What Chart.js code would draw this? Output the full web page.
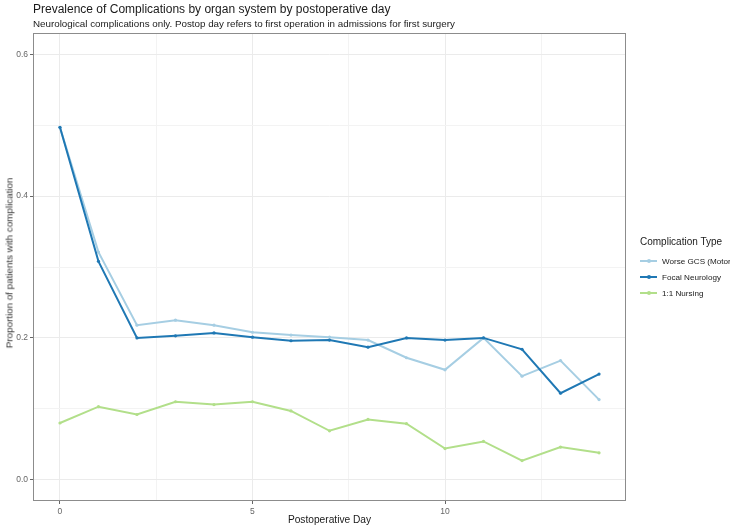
<!DOCTYPE html>
<html>
<head>
<meta charset="utf-8">
<script src="https://cdn.jsdelivr.net/npm/chart.js@4.4.1/dist/chart.umd.min.js"></script>
<style>
  body { margin: 0; background: #fff; font-family: "Liberation Sans", Arial, sans-serif; }
  #wrap { position: relative; width: 730px; height: 532px; overflow: hidden; }
  #chart { position: absolute; left: 0; top: 0; }
  .txt { position: absolute; white-space: nowrap; color: #1a1a1a; }
  #title { left: 33px; top: 2px; font-size: 12px; }
  #subtitle { left: 33px; top: 18px; font-size: 9.8px; }
  #xlab { left: 33px; width: 593px; top: 514px; text-align: center; font-size: 10.2px; }
  #ylab { left: 9px; top: 263px; font-size: 9.8px; color: #333; transform: translate(-50%, -50%) rotate(-90deg); }
  #legend { position: absolute; left: 640px; top: 236px; }
  #legend .ltitle { font-size: 10px; color: #1a1a1a; margin-bottom: 6px; }
  #legend .row { display: flex; align-items: center; height: 16px; font-size: 8.1px; color: #1a1a1a; white-space: nowrap; }
  #legend .key { position: relative; width: 17px; height: 2px; margin-right: 5px; }
  #legend .key span { position: absolute; left: 6.5px; top: -1.5px; width: 4px; height: 4px; border-radius: 2px; }
</style>
</head>
<body>
<div id="wrap">
  <canvas id="chart" width="730" height="532"></canvas>
  <div class="txt" id="title">Prevalence of Complications by organ system by postoperative day</div>
  <div class="txt" id="subtitle">Neurological complications only. Postop day refers to first operation in admissions for first surgery</div>
  <div class="txt" id="xlab">Postoperative Day</div>
  <div class="txt" id="ylab">Proportion of patients with complication</div>
  <div id="legend"></div>
</div>
<script>
// postoperative days
const days = [0, 1, 2, 3, 4, 5, 6, 7, 8, 9, 10, 11, 12, 13, 14];

// proportions
const worseGcs = [0.497, 0.321, 0.218, 0.225, 0.218, 0.208, 0.204, 0.201, 0.197, 0.172, 0.155, 0.200, 0.146, 0.168, 0.113];
const focalNeurology = [0.497, 0.308, 0.200, 0.203, 0.207, 0.201, 0.196, 0.197, 0.187, 0.200, 0.197, 0.200, 0.184, 0.122, 0.149];
const nursing = [0.080, 0.103, 0.092, 0.110, 0.106, 0.110, 0.097, 0.069, 0.085, 0.079, 0.044, 0.054, 0.027, 0.046, 0.038];

const seriesNames = ['Worse GCS (Motor)', 'Focal Neurology', '1:1 Nursing'];
const seriesColors = ['#a6cee3', '#1f78b4', '#b2df8a'];

// axis ticks (major labelled, minor only as grid lines)
const xTicks = [0, 2.5, 5, 7.5, 10, 12.5];
const xTickLabels = ['0', '', '5', '', '10', ''];
const yTicks = [0, 0.1, 0.2, 0.3, 0.4, 0.5, 0.6];
const yTickLabels = ['0.0', '', '0.2', '', '0.4', '', '0.6'];

function toPoints(values) {
  return days.map((d, i) => ({ x: d, y: values[i] }));
}

const seriesValues = [worseGcs, focalNeurology, nursing];
const drawOrder = [1, 0, 2]; // focal neurology on top

const datasets = seriesValues.map((vals, i) => ({
  label: seriesNames[i],
  data: toPoints(vals),
  borderColor: seriesColors[i],
  backgroundColor: seriesColors[i],
  borderWidth: 2,
  pointRadius: 1.6,
  pointBorderWidth: 0,
  pointHoverRadius: 1.6,
  tension: 0,
  order: drawOrder[i]
}));

// legend as html
const legend = document.getElementById('legend');
legend.innerHTML = '<div class="ltitle">Complication Type</div>' +
  seriesNames.map((n, i) =>
    `<div class="row"><div class="key" style="background:${seriesColors[i]}"><span style="background:${seriesColors[i]}"></span></div>${n}</div>`
  ).join('');

const panelBorder = {
  id: 'panelBorder',
  afterDraw(chart) {
    const a = chart.chartArea;
    const ctx = chart.ctx;
    ctx.save();
    ctx.strokeStyle = '#8c8c8c';
    ctx.lineWidth = 1;
    ctx.strokeRect(a.left + 0.5, a.top + 0.5, a.right - a.left - 1, a.bottom - a.top - 1);
    ctx.restore();
  }
};

const gridColor = ctx => (ctx.index % 2 === 0 ? '#ebebeb' : '#f3f3f3');
const tickFont = { family: '"Liberation Sans", Arial, sans-serif', size: 8.5 };

new Chart(document.getElementById('chart'), {
  type: 'line',
  data: { datasets },
  plugins: [panelBorder],
  options: {
    responsive: false,
    animation: false,
    events: [],
    layout: { padding: { left: 0, top: 33, right: 104, bottom: 0 } },
    plugins: { legend: { display: false }, tooltip: { enabled: false } },
    scales: {
      x: {
        type: 'linear',
        min: -0.7,
        max: 14.7,
        afterBuildTicks: s => { s.ticks = xTicks.map(v => ({ value: v })); },
        afterFit: s => { s.height = 31; },
        ticks: {
          autoSkip: false,
          maxRotation: 0,
          padding: 3,
          color: '#666',
          font: tickFont,
          callback: (v, i) => xTickLabels[i]
        },
        grid: {
          color: gridColor,
          lineWidth: 1,
          tickLength: 3,
          tickColor: ctx => (ctx.index % 2 === 0 ? '#666' : 'rgba(0,0,0,0)')
        },
        border: { display: false }
      },
      y: {
        type: 'linear',
        min: -0.03,
        max: 0.63,
        afterBuildTicks: s => { s.ticks = yTicks.map(v => ({ value: v })); },
        afterFit: s => { s.width = 33; },
        ticks: {
          autoSkip: false,
          padding: 2,
          color: '#666',
          font: tickFont,
          callback: (v, i) => yTickLabels[i]
        },
        grid: {
          color: gridColor,
          lineWidth: 1,
          tickLength: 3,
          tickColor: ctx => (ctx.index % 2 === 0 ? '#666' : 'rgba(0,0,0,0)')
        },
        border: { display: false }
      }
    }
  }
});
</script>
</body>
</html>
